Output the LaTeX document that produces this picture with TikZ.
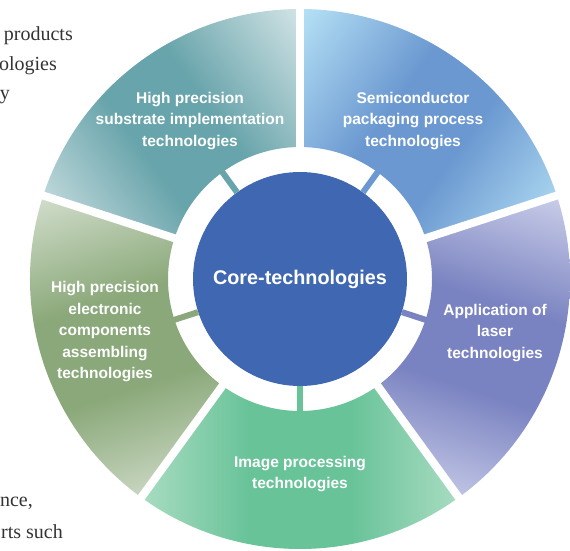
\documentclass[tikz,border=0pt]{standalone}
\usepackage{fontspec}
\setmainfont{Liberation Serif}
\newfontfamily\labelfont{Liberation Sans}
\usetikzlibrary{positioning}
\definecolor{coreBlue}{HTML}{4067B1}
\definecolor{tealMid}{HTML}{68A4AB}
\definecolor{tealEnd}{HTML}{CFE2E4}
\definecolor{skyMid}{HTML}{6B98D0}
\definecolor{skyEnd}{HTML}{B4E0F5}
\definecolor{violetMid}{HTML}{7A83C1}
\definecolor{violetEnd}{HTML}{DADDF1}
\definecolor{mintMid}{HTML}{68C399}
\definecolor{mintEnd}{HTML}{CBE9D7}
\definecolor{oliveMid}{HTML}{8AA879}
\definecolor{oliveEnd}{HTML}{E0E8DC}
\definecolor{bodyGray}{HTML}{333333}
% light - dark - dark - light bands for each segment
\pgfdeclareverticalshading{tealShade}{100bp}{color(0bp)=(tealEnd); color(16bp)=(tealEnd); color(42bp)=(tealMid); color(58bp)=(tealMid); color(84bp)=(tealEnd); color(100bp)=(tealEnd)}
\pgfdeclareverticalshading{skyShade}{100bp}{color(0bp)=(skyEnd); color(16bp)=(skyEnd); color(42bp)=(skyMid); color(58bp)=(skyMid); color(84bp)=(skyEnd); color(100bp)=(skyEnd)}
\pgfdeclareverticalshading{violetShade}{100bp}{color(0bp)=(violetEnd); color(16bp)=(violetEnd); color(42bp)=(violetMid); color(58bp)=(violetMid); color(84bp)=(violetEnd); color(100bp)=(violetEnd)}
\pgfdeclareverticalshading{mintShade}{100bp}{color(0bp)=(mintEnd); color(16bp)=(mintEnd); color(42bp)=(mintMid); color(58bp)=(mintMid); color(84bp)=(mintEnd); color(100bp)=(mintEnd)}
\pgfdeclareverticalshading{oliveShade}{100bp}{color(0bp)=(oliveEnd); color(16bp)=(oliveEnd); color(42bp)=(oliveMid); color(58bp)=(oliveMid); color(84bp)=(oliveEnd); color(100bp)=(oliveEnd)}

\begin{document}
\begin{tikzpicture}[x=1pt, y=1pt,
    gap/.style={white, line width=8pt},
    bar/.style={draw=#1, line width=6pt},
    seglabel/.style={text=white, align=center, inner sep=0pt, font=\labelfont\bfseries\fontsize{15.5}{21.5}\selectfont},
    core/.style={circle, fill=coreBlue, minimum size=214pt, inner sep=0pt, text=white, font=\labelfont\bfseries\fontsize{19.8}{24}\selectfont},
    bodytext/.style={text=bodyGray, anchor=base east, inner sep=0pt, font=\fontsize{20}{24}\selectfont}]
  \useasboundingbox (0,0) rectangle (570,550);
  % cropped paragraph text on the left
  \node[bodytext] (t1) at (73,509) {products};
  \node[bodytext] (t2) at (57,479) {ologies};
  \node[bodytext] (t3) at (10,450) {y};
  \node[bodytext] (t4) at (33,44) {nce,};
  \node[bodytext] (t5) at (63,12) {rts such};
  % the five ring segments
  \begin{scope}[shift={(300,271)}]
    \foreach \a/\s [evaluate=\a as \b using \a+72, evaluate=\a as \c using \a+36] in
        {90/tealShade, 18/skyShade, -54/violetShade, -126/mintShade, 162/oliveShade}{
      \shade[shading=\s, shading angle=\c] (\a:132) arc[start angle=\a, end angle=\b, radius=132]
        -- (\b:270) arc[start angle=\b, end angle=\a, radius=270] -- cycle;}
    \foreach \a in {90,18,-54,-126,162}
      \draw[gap] (\a:120) -- (\a:280);
  \end{scope}
  \node[core] (core) at (300,271) {Core-technologies};
  % short bars from the core to each segment
  \foreach \c/\m in {126/tealMid, 54/skyMid, 342/violetMid, 270/mintMid, 198/oliveMid}
    \draw[bar=\m] (core.\c) -- ([shift={(\c:134)}]core.center);
  \node[seglabel] (substrate) at (190,429) {High precision\\substrate implementation\\technologies};
  \node[seglabel] (packaging) at (413,429) {Semiconductor\\packaging process\\technologies};
  \node[seglabel] (laser) at (495,217) {Application of\\laser\\technologies};
  \node[seglabel] (image) at (300,76) {Image processing\\technologies};
  \node[seglabel] (assembling) at (105,218) {High precision\\electronic\\components\\assembling\\technologies};
\end{tikzpicture}
\end{document}
